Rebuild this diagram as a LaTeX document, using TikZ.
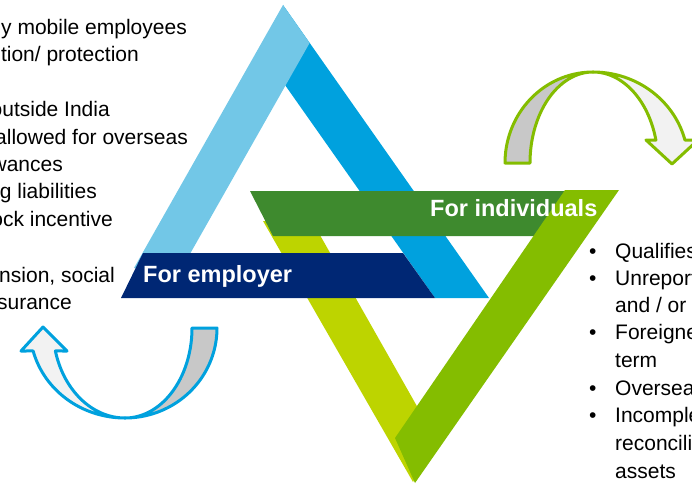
\documentclass[tikz,border=0pt]{standalone}
\usepackage{fontspec}
\setmainfont{Liberation Sans}
\definecolor{lightblue}{RGB}{114,199,231}
\definecolor{cyanleg}{RGB}{0,161,222}
\definecolor{navybar}{RGB}{0,39,116}
\definecolor{darkgreenbar}{RGB}{62,138,46}
\definecolor{limeleg}{RGB}{189,212,0}
\definecolor{greenleg}{RGB}{132,189,0}
\definecolor{arrowdark}{RGB}{200,200,200}
\definecolor{arrowlight}{RGB}{242,242,242}
\begin{document}
\begin{tikzpicture}[x=1pt,y=-1pt,
  body/.style={font=\fontsize{21}{25}\selectfont, text=black, inner sep=0pt},
  barlabel/.style={font=\fontsize{23.5}{28}\selectfont\bfseries, text=white, inner sep=0pt},
  greenoutline/.style={draw=greenleg, line width=3pt, line join=round},
  blueoutline/.style={draw=cyanleg, line width=3pt, line join=round},
  arc/.style={samples=40, variable=\t}]
\useasboundingbox (0,0) rectangle (692,484);
\clip (0,0) rectangle (692,484);

% upward (blue) triangle
\fill[cyanleg] (283,5) -- (489,298) -- (435,298) -- (285,85) -- cycle;
\fill[lightblue] (283,5) -- (309.6,43) -- (182,268) -- (134,268) -- cycle;

% downward (green) triangle: lime leg
\fill[limeleg] (263,221) -- (312,221) -- (435,438) -- (413,482) -- cycle;

% bars
\fill[navybar] (121,298) -- (143,253) -- (403,253) -- (435,298) -- cycle;
\fill[darkgreenbar] (250,191) -- (590,191) -- (555,236) -- (273,236) -- cycle;

% green right leg
\fill[greenleg] (565,190) -- (619,190) -- (415,483) -- (395,438) -- cycle;

\node[barlabel, anchor=base west] (employer) at (143,282) {For employer};
\node[barlabel, anchor=base west] (individuals) at (430,216) {For individuals};

% green curved arrow (top right)
\filldraw[fill=arrowdark, greenoutline]
  plot[arc, domain=180:270] ({593+88*cos(\t)},{163+91*sin(\t)})
  -- plot[arc, domain=270:180] ({593+63*cos(\t)},{163+91*sin(\t)}) -- cycle;
\filldraw[fill=arrowlight, greenoutline]
  plot[arc, domain=270:345.4] ({593+95*cos(\t)},{163+91*sin(\t)})
  -- (698,140) -- (672,164) -- (646,140)
  -- plot[arc, domain=345.4:270] ({593+65*cos(\t)},{163+91*sin(\t)}) -- cycle;

% blue curved arrow (bottom left)
\filldraw[fill=arrowdark, blueoutline]
  plot[arc, domain=0:90] ({125+92*cos(\t)},{328+90*sin(\t)})
  -- plot[arc, domain=90:0] ({125+67*cos(\t)},{328+90*sin(\t)}) -- cycle;
\filldraw[fill=arrowlight, blueoutline]
  plot[arc, domain=90:165.2] ({125+95*cos(\t)},{328+90*sin(\t)})
  -- (21,351) -- (43,327) -- (67,351)
  -- plot[arc, domain=165.2:90] ({125+72*cos(\t)},{328+90*sin(\t)}) -- cycle;

% left text
\node[body, anchor=base east] (l1) at (187,35) {y mobile employees};
\node[body, anchor=base east] (l2) at (139,62) {tion/ protection};
\node[body, anchor=base east] (l3) at (110,117) {outside India};
\node[body, anchor=base east] (l4) at (188,144) {allowed for overseas};
\node[body, anchor=base east] (l5) at (63,171) {wances};
\node[body, anchor=base east] (l6) at (97,198) {g liabilities};
\node[body, anchor=base east] (l7) at (113,226) {ock incentive};
\node[body, anchor=base east] (l8) at (115,282) {nsion, social};
\node[body, anchor=base east] (l9) at (72,309) {surance};

% right text
\node[body, anchor=base west] (b1) at (589,258) {•};
\node[body, anchor=base west] (r1) at (615,258) {Qualifies};
\node[body, anchor=base west] (b2) at (589,285) {•};
\node[body, anchor=base west] (r2) at (615,285) {Unreport};
\node[body, anchor=base west] (r3) at (615,312) {and / or};
\node[body, anchor=base west] (b3) at (589,339) {•};
\node[body, anchor=base west] (r4) at (615,339) {Foreigne};
\node[body, anchor=base west] (r5) at (615,367) {term};
\node[body, anchor=base west] (b4) at (589,395) {•};
\node[body, anchor=base west] (r6) at (615,395) {Oversea};
\node[body, anchor=base west] (b5) at (589,422) {•};
\node[body, anchor=base west] (r7) at (615,422) {Incomple};
\node[body, anchor=base west] (r8) at (615,450) {reconcili};
\node[body, anchor=base west] (r9) at (615,478) {assets};
\end{tikzpicture}
\end{document}
